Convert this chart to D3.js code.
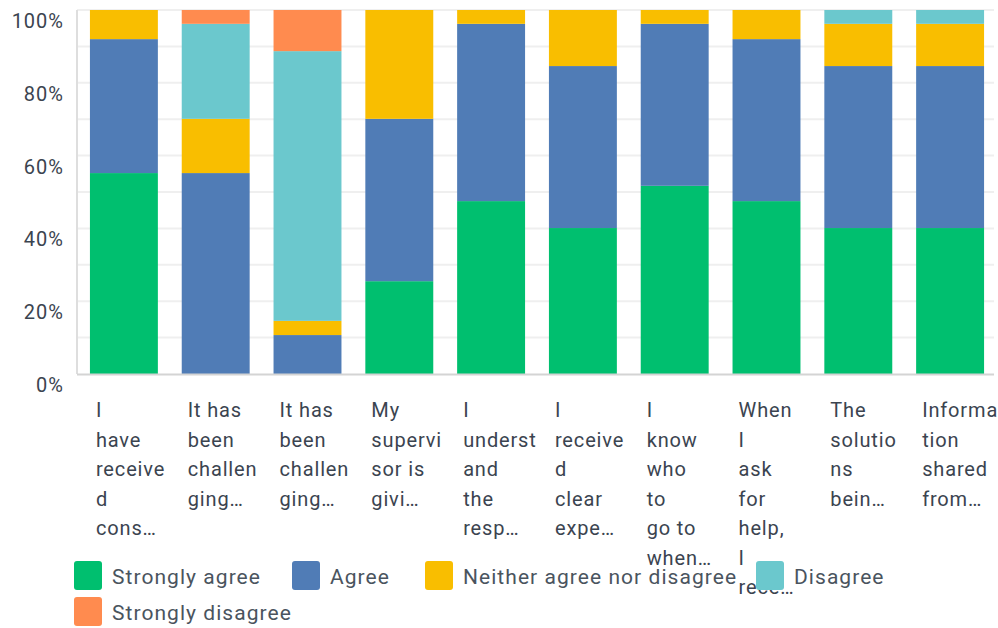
<!DOCTYPE html>
<html>
<head>
<meta charset="utf-8">
<script src="https://cdn.jsdelivr.net/npm/d3@7"></script>
<style>
    body { margin: 0; background: #fff; }
    svg { display: block; font-family: Roboto, "Noto Sans", sans-serif; }
</style>
</head>
<body>
<div id="main_area"></div>
<script>
// 各问题的标签(已按原图换行)
var categories = [
    ["I", "have", "receive", "d", "cons…"],
    ["It has", "been", "challen", "ging…"],
    ["It has", "been", "challen", "ging…"],
    ["My", "supervi", "sor is", "givi…"],
    ["I", "underst", "and", "the", "resp…"],
    ["I", "receive", "d", "clear", "expe…"],
    ["I", "know", "who", "to", "go to", "when…"],
    ["When", "I", "ask", "for", "help,", "I", "rece…"],
    ["The", "solutio", "ns", "bein…"],
    ["Informa", "tion", "shared", "from…"]
];
var seriesNames = ["Strongly agree", "Agree", "Neither agree nor disagree", "Disagree", "Strongly disagree"];
var seriesColors = ["#00bf6f", "#507cb6", "#f9be00", "#6bc8cd", "#ff8b4f"];

// 百分比
var stronglyAgree = [55.2, 0, 0, 25.5, 47.5, 40.1, 51.7, 47.5, 40.1, 40.1];
var agree = [36.8, 55.2, 10.7, 44.6, 48.7, 44.5, 44.5, 44.5, 44.5, 44.5];
var neither = [8.0, 14.9, 3.9, 29.9, 3.8, 15.4, 3.8, 8.0, 11.6, 11.6];
var disagree = [0, 26.1, 74.1, 0, 0, 0, 0, 0, 3.8, 3.8];
var stronglyDisagree = [0, 3.8, 11.3, 0, 0, 0, 0, 0, 0, 0];

var yTicks = [0, 20, 40, 60, 80, 100];
var gridTicks = [10, 20, 30, 40, 50, 60, 70, 80, 90, 100];

var width = 998, height = 628;
var plotLeft = 77, plotRight = 994, plotTop = 10, plotBottom = 374;

var svg = d3.select("div#main_area")
    .append("svg")
    .attr("width", width)
    .attr("height", height);

var rows = categories.map(function (c, i) {
    return {
        idx: i,
        s0: stronglyAgree[i],
        s1: agree[i],
        s2: neither[i],
        s3: disagree[i],
        s4: stronglyDisagree[i]
    };
});

var xScale = d3.scaleBand()
    .domain(rows.map(function (d) { return d.idx; }))
    .range([78, 996])
    .paddingInner(0.26)
    .paddingOuter(0.13);

var yScale = d3.scaleLinear()
    .domain([0, 100])
    .range([plotBottom, plotTop]);

// 网格线
svg.append("g")
    .selectAll("line")
    .data(gridTicks)
    .enter()
    .append("line")
    .attr("x1", plotLeft)
    .attr("x2", plotRight)
    .attr("y1", function (d) { return yScale(d); })
    .attr("y2", function (d) { return yScale(d); })
    .attr("stroke", "#efefef")
    .attr("stroke-width", 2);

// y轴竖线
svg.append("line")
    .attr("x1", plotLeft).attr("x2", plotLeft)
    .attr("y1", plotTop).attr("y2", plotBottom)
    .attr("stroke", "#dedede")
    .attr("stroke-width", 2);

// 堆叠柱
var series = d3.stack().keys(["s0", "s1", "s2", "s3", "s4"])(rows);

svg.append("g")
    .selectAll("g")
    .data(series)
    .enter()
    .append("g")
    .attr("fill", function (d, i) { return seriesColors[i]; })
    .selectAll("rect")
    .data(function (d) { return d; })
    .enter()
    .append("rect")
    .attr("x", function (d) { return xScale(d.data.idx); })
    .attr("y", function (d) { return yScale(d[1]); })
    .attr("width", xScale.bandwidth())
    .attr("height", function (d) { return yScale(d[0]) - yScale(d[1]); });

// 底线
svg.append("line")
    .attr("x1", plotLeft).attr("x2", plotRight)
    .attr("y1", plotBottom + 0.5).attr("y2", plotBottom + 0.5)
    .attr("stroke", "#d4d4d4")
    .attr("stroke-width", 2);

// y轴标签
svg.append("g")
    .selectAll("text")
    .data(yTicks)
    .enter()
    .append("text")
    .attr("x", 64)
    .attr("y", function (d) { return yScale(d) + 11; })
    .attr("dy", "0.35em")
    .attr("text-anchor", "end")
    .attr("font-size", 20)
    .attr("letter-spacing", "1px")
    .attr("fill", "#3b4450")
    .text(function (d) { return d + "%"; });

// x轴标签
svg.append("g")
    .selectAll("text")
    .data(rows)
    .enter()
    .append("text")
    .attr("x", function (d) { return xScale(d.idx) + 6; })
    .attr("y", 410)
    .attr("font-size", 20)
    .attr("letter-spacing", "0.85px")
    .attr("fill", "#3b4450")
    .each(function (d) {
        var t = d3.select(this);
        var x = xScale(d.idx) + 6;
        categories[d.idx].forEach(function (line, j) {
            t.append("tspan")
                .attr("x", x)
                .attr("y", 410 + j * 29.5)
                .attr("dy", "0.35em")
                .text(line);
        });
    });

// 图例
var legendPos = [[74, 575], [292, 575], [425, 575], [756, 575], [74, 611]];
var legend = svg.append("g")
    .selectAll("g")
    .data(seriesNames)
    .enter()
    .append("g")
    .attr("transform", function (d, i) {
        return "translate(" + legendPos[i][0] + "," + legendPos[i][1] + ")";
    });
legend.append("rect")
    .attr("y", -14)
    .attr("width", 28)
    .attr("height", 29)
    .attr("rx", 3)
    .attr("fill", function (d, i) { return seriesColors[i]; });
legend.append("text")
    .attr("x", 38)
    .attr("y", 2)
    .attr("dy", "0.35em")
    .attr("font-size", 21)
    .attr("letter-spacing", "1.05px")
    .attr("fill", "#4a545e")
    .text(function (d) { return d; });
</script>
</body>
</html>
